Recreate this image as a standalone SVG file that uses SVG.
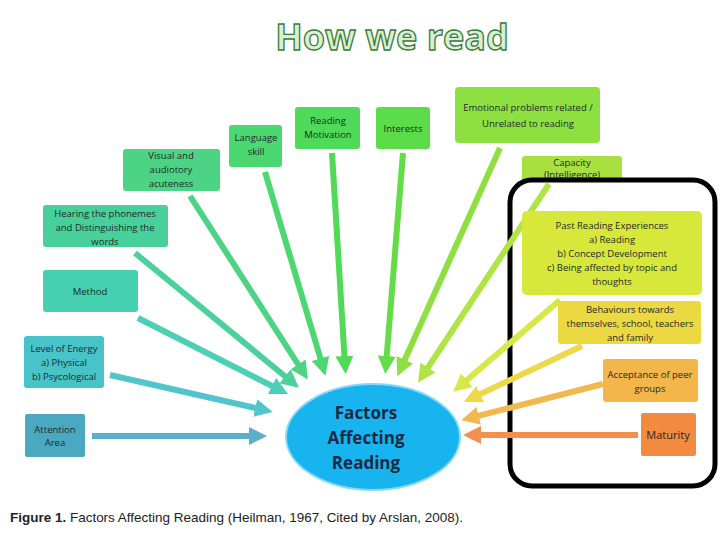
<svg xmlns="http://www.w3.org/2000/svg" width="720" height="540" viewBox="0 0 720 540">
<style>
.n text{font-family:"Open Sans","DejaVu Sans",sans-serif;font-size:9.5px;fill:#1d2b2b;text-anchor:middle}
.c line{stroke-width:6}
</style>
<defs>
<marker id="m0" viewBox="0 0 10 10" refX="5" refY="5" markerWidth="3" markerHeight="3" orient="auto"><path d="M0,0L10,5L0,10z" fill="#5ab0c8"/></marker>
<marker id="m1" viewBox="0 0 10 10" refX="5" refY="5" markerWidth="3" markerHeight="3" orient="auto"><path d="M0,0L10,5L0,10z" fill="#52c4cc"/></marker>
<marker id="m2" viewBox="0 0 10 10" refX="5" refY="5" markerWidth="3" markerHeight="3" orient="auto"><path d="M0,0L10,5L0,10z" fill="#4ccfb4"/></marker>
<marker id="m3" viewBox="0 0 10 10" refX="5" refY="5" markerWidth="3" markerHeight="3" orient="auto"><path d="M0,0L10,5L0,10z" fill="#4cd09c"/></marker>
<marker id="m4" viewBox="0 0 10 10" refX="5" refY="5" markerWidth="3" markerHeight="3" orient="auto"><path d="M0,0L10,5L0,10z" fill="#4cd484"/></marker>
<marker id="m5" viewBox="0 0 10 10" refX="5" refY="5" markerWidth="3" markerHeight="3" orient="auto"><path d="M0,0L10,5L0,10z" fill="#4cd870"/></marker>
<marker id="m6" viewBox="0 0 10 10" refX="5" refY="5" markerWidth="3" markerHeight="3" orient="auto"><path d="M0,0L10,5L0,10z" fill="#50da58"/></marker>
<marker id="m7" viewBox="0 0 10 10" refX="5" refY="5" markerWidth="3" markerHeight="3" orient="auto"><path d="M0,0L10,5L0,10z" fill="#64dc48"/></marker>
<marker id="m8" viewBox="0 0 10 10" refX="5" refY="5" markerWidth="3" markerHeight="3" orient="auto"><path d="M0,0L10,5L0,10z" fill="#8ee040"/></marker>
<marker id="m9" viewBox="0 0 10 10" refX="5" refY="5" markerWidth="3" markerHeight="3" orient="auto"><path d="M0,0L10,5L0,10z" fill="#aee446"/></marker>
<marker id="m10" viewBox="0 0 10 10" refX="5" refY="5" markerWidth="3" markerHeight="3" orient="auto"><path d="M0,0L10,5L0,10z" fill="#d8e84a"/></marker>
<marker id="m11" viewBox="0 0 10 10" refX="5" refY="5" markerWidth="3" markerHeight="3" orient="auto"><path d="M0,0L10,5L0,10z" fill="#ecd848"/></marker>
<marker id="m12" viewBox="0 0 10 10" refX="5" refY="5" markerWidth="3" markerHeight="3" orient="auto"><path d="M0,0L10,5L0,10z" fill="#f2b850"/></marker>
<marker id="m13" viewBox="0 0 10 10" refX="5" refY="5" markerWidth="3" markerHeight="3" orient="auto"><path d="M0,0L10,5L0,10z" fill="#f29050"/></marker>
</defs>
<rect width="720" height="540" fill="#fff"/>
<text x="392" y="50" text-anchor="middle" font-family="'Open Sans','DejaVu Sans',sans-serif" font-size="36" font-weight="bold" fill="#d8f0d0" stroke="#3a7a3a" stroke-width="1.3">How we read</text>

<g id="n-capacity" class="n"><rect x="522" y="156" width="100" height="30" rx="3" fill="#a8e040"/><text x="572" y="166">Capacity</text><text x="572" y="178">(Intelligence)</text></g>
<rect id="frame" x="510" y="180" width="205" height="306" rx="22" fill="#fff" stroke="#000" stroke-width="5"/>

<g id="connectors" class="c">
<line x1="92" y1="436" x2="258" y2="436" stroke="#5ab0c8" marker-end="url(#m0)"/>
<line x1="110" y1="375" x2="264" y2="410" stroke="#52c4cc" marker-end="url(#m1)"/>
<line x1="138" y1="318" x2="280" y2="390" stroke="#4ccfb4" marker-end="url(#m2)"/>
<line x1="135" y1="253" x2="292" y2="382" stroke="#4cd09c" marker-end="url(#m3)"/>
<line x1="190" y1="196" x2="303" y2="372" stroke="#4cd484" marker-end="url(#m4)"/>
<line x1="265" y1="172" x2="323" y2="367" stroke="#4cd870" marker-end="url(#m5)"/>
<line x1="332" y1="153" x2="345" y2="365" stroke="#50da58" marker-end="url(#m6)"/>
<line x1="403" y1="153" x2="386" y2="365" stroke="#64dc48" marker-end="url(#m7)"/>
<line x1="500" y1="148" x2="401" y2="368" stroke="#8ee040" marker-end="url(#m8)"/>
<line x1="549" y1="184" x2="423" y2="375" stroke="#aee446" marker-end="url(#m9)"/>
<line x1="560" y1="300" x2="460" y2="386" stroke="#d8e84a" marker-end="url(#m10)"/>
<line x1="582" y1="346" x2="472" y2="398" stroke="#ecd848" marker-end="url(#m11)"/>
<line x1="603" y1="384" x2="470" y2="418" stroke="#f2b850" marker-end="url(#m12)"/>
<line x1="638" y1="435" x2="472" y2="435" stroke="#f29050" marker-end="url(#m13)"/>
</g>

<g id="center"><ellipse cx="373" cy="437" rx="87" ry="53" fill="#18b4f0" stroke="#8ad8f8" stroke-width="2"/>
<g font-family="'Open Sans','DejaVu Sans',sans-serif" font-size="17" font-weight="bold" fill="#1a2a44" text-anchor="middle"><text x="366" y="419">Factors</text><text x="366" y="444">Affecting</text><text x="366" y="469">Reading</text></g></g>

<g id="n-attention" class="n"><rect x="25" y="414" width="60" height="43" rx="2" fill="#4aa8c0"/><text x="55" y="433">Attention</text><text x="55" y="446">Area</text></g>
<g id="n-energy" class="n"><rect x="24" y="336" width="80" height="52" rx="3" fill="#48c4c8"/><text x="64" y="352">Level of Energy</text><text x="64" y="366">a) Physical</text><text x="64" y="380">b) Psycological</text></g>
<g id="n-method" class="n"><rect x="43" y="270" width="95" height="42" rx="3" fill="#45d0b0"/><text x="90" y="295">Method</text></g>
<g id="n-hearing" class="n"><rect x="43" y="205" width="125" height="42" rx="3" fill="#48d09a"/><text x="105" y="217">Hearing the phonemes</text><text x="105" y="231">and Distinguishing the</text><text x="105" y="245">words</text></g>
<g id="n-visual" class="n"><rect x="123" y="149" width="97" height="42" rx="3" fill="#4cd484"/><text x="171" y="159">Visual and</text><text x="171" y="173">audiotory</text><text x="171" y="187">acuteness</text></g>
<g id="n-language" class="n"><rect x="229" y="125" width="53" height="42" rx="3" fill="#4cd870"/><text x="256" y="141">Language</text><text x="256" y="155">skill</text></g>
<g id="n-motivation" class="n"><rect x="295" y="107" width="65" height="42" rx="3" fill="#50da5a"/><text x="328" y="124">Reading</text><text x="328" y="138">Motivation</text></g>
<g id="n-interests" class="n"><rect x="376" y="107" width="54" height="42" rx="3" fill="#5cdc48"/><text x="403" y="132">Interests</text></g>
<g id="n-emotional" class="n"><rect x="455" y="87" width="145" height="56" rx="4" fill="#8ee040"/><text x="528" y="111">Emotional problems related /</text><text x="528" y="127">Unrelated to reading</text></g>
<g id="n-past" class="n"><rect x="522" y="211" width="180" height="84" rx="5" fill="#d8e83a"/><text x="612" y="229">Past Reading Experiences</text><text x="612" y="243">a) Reading</text><text x="612" y="257">b) Concept Development</text><text x="612" y="271">c) Being affected by topic and</text><text x="612" y="285">thoughts</text></g>
<g id="n-behaviours" class="n"><rect x="558" y="301" width="143" height="43" rx="3" fill="#ecd840"/><text x="630" y="313">Behaviours towards</text><text x="630" y="327">themselves, school, teachers</text><text x="630" y="341">and family</text></g>
<g id="n-acceptance" class="n"><rect x="603" y="359" width="95" height="43" rx="3" fill="#f2b64a"/><text x="650" y="378">Acceptance of peer</text><text x="650" y="392">groups</text></g>
<g id="n-maturity" class="n"><rect x="641" y="413" width="55" height="43" rx="2" fill="#f28a40"/><text x="668" y="439" style="font-size:11px">Maturity</text></g>

<text x="10" y="522" font-family="'Liberation Sans',Arial,sans-serif" font-size="13" fill="#222" textLength="453" lengthAdjust="spacingAndGlyphs"><tspan font-weight="bold">Figure 1.</tspan> Factors Affecting Reading (Heilman, 1967, Cited by Arslan, 2008).</text>
</svg>
